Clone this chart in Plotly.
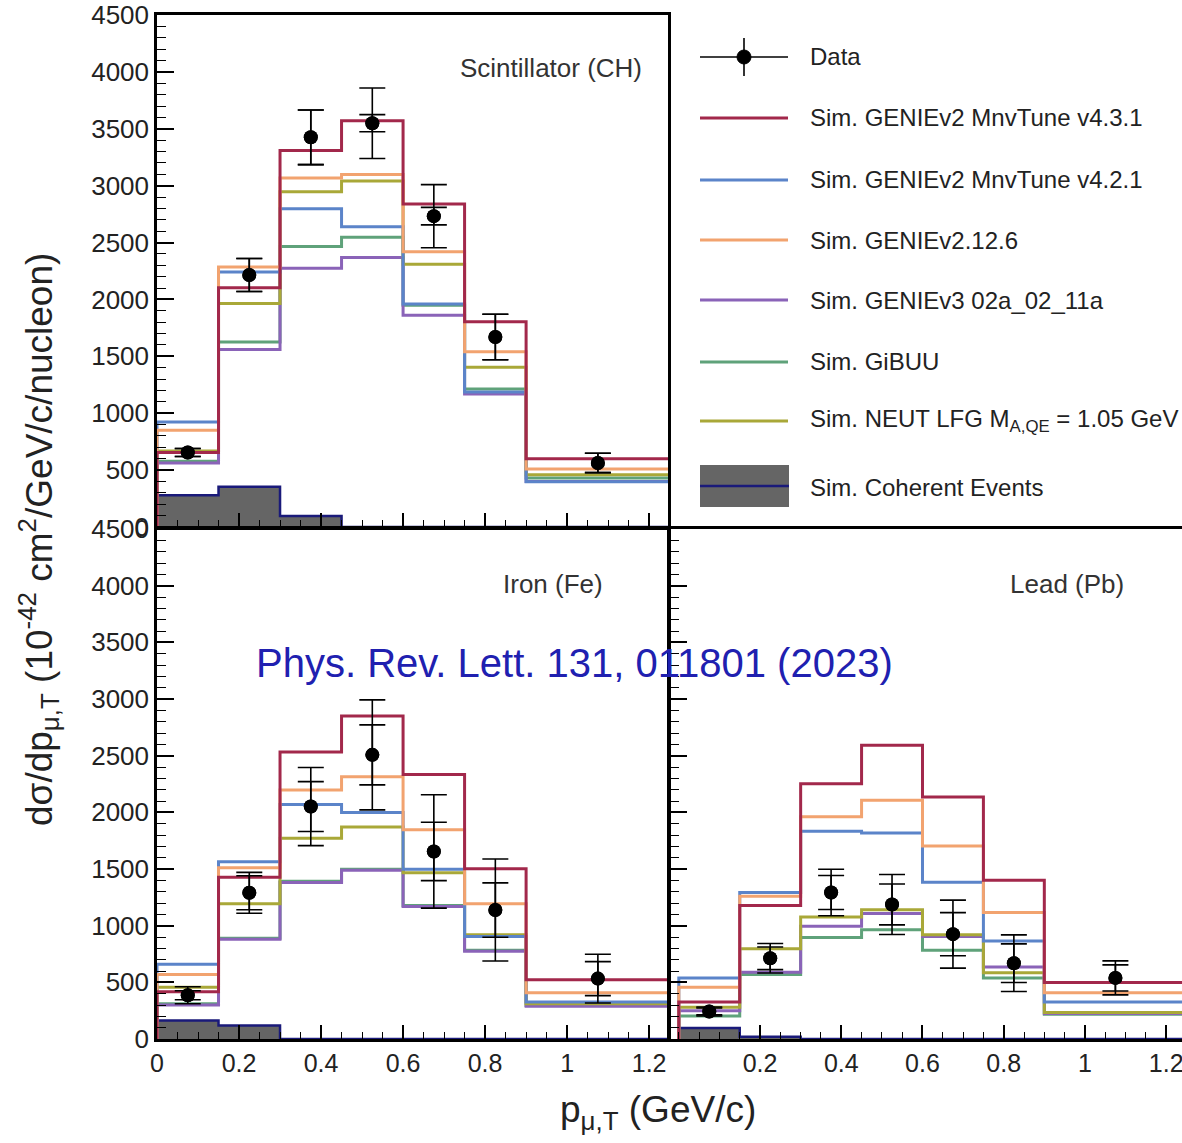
import plotly.graph_objects as go

# Bin edges in p_mu,T (GeV/c) and bin centres for the data points
edges = [0.0, 0.15, 0.30, 0.45, 0.60, 0.75, 0.90, 1.25]
centers = [0.075, 0.225, 0.375, 0.525, 0.675, 0.825, 1.075]

# ---- Scintillator (CH) ----
ch_data = [655, 2215, 3425, 3549, 2732, 1670, 563]
ch_total = [35, 145, 240, 310, 277, 200, 85]
ch_stat = [35, 145, 240, 75, 77, 200, 85]
ch_v431 = [655, 2103, 3310, 3570, 2838, 1805, 599]
ch_v421 = [923, 2242, 2797, 2640, 1960, 1186, 398]
ch_g2126 = [850, 2286, 3068, 3098, 2419, 1540, 510]
ch_g3 = [563, 1560, 2274, 2369, 1861, 1168, 401]
ch_gibuu = [578, 1626, 2466, 2546, 1950, 1212, 431]
ch_neut = [667, 1965, 2947, 3042, 2310, 1404, 460]
ch_coh = [280, 354, 97, 0, 0, 0, 0]

# ---- Iron (Fe) ----
fe_data = [386, 1290, 2051, 2507, 1655, 1138, 533]
fe_total = [75, 180, 345, 485, 500, 450, 215]
fe_stat = [40, 150, 220, 265, 258, 240, 150]
fe_v431 = [417, 1427, 2532, 2851, 2334, 1503, 523]
fe_v421 = [660, 1564, 2069, 1999, 1497, 904, 326]
fe_g2126 = [569, 1512, 2197, 2313, 1847, 1193, 408]
fe_g3 = [300, 880, 1380, 1490, 1170, 775, 290]
fe_gibuu = [310, 889, 1391, 1497, 1178, 782, 295]
fe_neut = [456, 1193, 1771, 1871, 1467, 919, 310]
fe_coh = [164, 119, 0, 0, 0, 0, 0]

# ---- Lead (Pb) ----
pb_data = [243, 712, 1293, 1187, 925, 669, 539]
pb_total = [40, 130, 205, 265, 300, 250, 150]
pb_stat = [30, 100, 150, 180, 190, 170, 115]
pb_v431 = [326, 1178, 2252, 2593, 2136, 1400, 499]
pb_v421 = [539, 1293, 1832, 1817, 1382, 864, 326]
pb_g2126 = [456, 1260, 1960, 2106, 1704, 1117, 408]
pb_g3 = [250, 590, 995, 1108, 904, 636, 225]
pb_gibuu = [204, 569, 895, 965, 782, 539, 219]
pb_neut = [280, 797, 1077, 1141, 919, 584, 234]
pb_coh = [97, 20, 0, 0, 0, 0, 0]

panel_titles = ["Scintillator (CH)", "Iron (Fe)", "Lead (Pb)"]
y_ticks = [0, 500, 1000, 1500, 2000, 2500, 3000, 3500, 4000, 4500]
x_ticks = [0, 0.2, 0.4, 0.6, 0.8, 1.0, 1.2]
x_ticktext = ["0", "0.2", "0.4", "0.6", "0.8", "1", "1.2"]

model_names = [
    "Sim. GENIEv2 MnvTune v4.3.1",
    "Sim. GENIEv2 MnvTune v4.2.1",
    "Sim. GENIEv2.12.6",
    "Sim. GENIEv3 02a_02_11a",
    "Sim. GiBUU",
    "Sim. NEUT LFG M<sub>A,QE</sub> = 1.05 GeV",
]
model_colors = ["#a2284b", "#5b84c9", "#f2a36f", "#8a63b8", "#5fa27a", "#a9a838"]
COH_FILL = "#656565"
COH_LINE = "#1a1a7a"

W, H = 1182, 1143
FONT = "Liberation Sans, Arial, sans-serif"
TXT = "#222"


def px(x):
    return x / W


def py(y):
    return 1 - y / H


def step_xy(vals):
    xs = [edges[0]] + edges[:-1] + [edges[-1]]
    ys = [0] + list(vals) + [vals[-1]]
    return xs, ys


fig = go.Figure()

panels = [
    ("x", "y", ch_data, ch_total, ch_stat,
     [ch_v431, ch_v421, ch_g2126, ch_g3, ch_gibuu, ch_neut], ch_coh),
    ("x2", "y2", fe_data, fe_total, fe_stat,
     [fe_v431, fe_v421, fe_g2126, fe_g3, fe_gibuu, fe_neut], fe_coh),
    ("x3", "y3", pb_data, pb_total, pb_stat,
     [pb_v431, pb_v421, pb_g2126, pb_g3, pb_gibuu, pb_neut], pb_coh),
]

# drawing order of the model curves (last one on top)
draw_order = [4, 3, 5, 1, 2, 0]

for xa, ya, data, tot, stat, models, coh in panels:
    cx, cy = step_xy(coh)
    fig.add_trace(go.Scatter(
        x=cx, y=cy, mode="lines", line=dict(shape="hv", color=COH_LINE, width=2.5),
        fill="tozeroy", fillcolor=COH_FILL, xaxis=xa, yaxis=ya,
        showlegend=False, hoverinfo="skip"))
    for i in draw_order:
        sx, sy = step_xy(models[i])
        fig.add_trace(go.Scatter(
            x=sx, y=sy, mode="lines",
            line=dict(shape="hv", color=model_colors[i], width=3),
            xaxis=xa, yaxis=ya, showlegend=False, name=model_names[i]))
    # total uncertainty
    fig.add_trace(go.Scatter(
        x=centers, y=data, mode="markers",
        marker=dict(size=14, color="black"),
        error_y=dict(type="data", array=tot, color="black", thickness=1.6, width=13),
        xaxis=xa, yaxis=ya, showlegend=False))
    # statistical uncertainty
    fig.add_trace(go.Scatter(
        x=centers, y=data, mode="markers",
        marker=dict(size=14, color="black"),
        error_y=dict(type="data", array=stat, color="black", thickness=1.6, width=13),
        xaxis=xa, yaxis=ya, showlegend=False, name="Data"))

axis_common = dict(
    showline=True, linecolor="black", linewidth=2.5, ticks="inside",
    tickcolor="black", tickwidth=1.5, showgrid=False, zeroline=False,
    automargin=False, ticklabeloverflow="allow",
)

x_top_dom = [px(157), px(668)]
x_right_dom = [px(670), 1.0]
y_top_dom = [py(527), py(15)]
y_bot_dom = [py(1039), py(529)]

xminor = dict(ticks="inside", ticklen=7, dtick=0.05, tick0=0, tickcolor="black", tickwidth=1.2)
yminor = dict(ticks="inside", ticklen=9, dtick=100, tick0=0, tickcolor="black", tickwidth=1.2)
ytickfont = dict(size=26, family=FONT, color=TXT)
xtickfont = dict(size=25, family=FONT, color=TXT)

fig.update_layout(
    template="none",
    width=W, height=H, margin=dict(l=0, r=0, t=0, b=0, pad=0, autoexpand=False),
    paper_bgcolor="white", plot_bgcolor="white", showlegend=False,
    font=dict(family=FONT, color=TXT),
    xaxis=dict(domain=x_top_dom, range=[0, 1.246], anchor="y", mirror=True,
               tickvals=x_ticks, showticklabels=False, ticklen=14, minor=xminor,
               **axis_common),
    yaxis=dict(domain=y_top_dom, range=[0, 4500], anchor="x", mirror=True,
               tickvals=y_ticks, ticklen=17, minor=yminor, tickfont=ytickfont,
               **axis_common),
    xaxis2=dict(domain=x_top_dom, range=[0, 1.246], anchor="y2", mirror=True,
                tickvals=x_ticks, ticktext=x_ticktext, ticklen=14, minor=xminor,
                tickfont=xtickfont, **axis_common),
    yaxis2=dict(domain=y_bot_dom, range=[0, 4500], anchor="x2", mirror=True,
                tickvals=y_ticks, ticklen=17, minor=yminor, tickfont=ytickfont,
                **axis_common),
    xaxis3=dict(domain=x_right_dom, range=[-0.0217, 1.239], anchor="y3", mirror=True,
                tickvals=x_ticks[1:], ticktext=x_ticktext[1:], ticklen=14, minor=xminor,
                tickfont=xtickfont, **axis_common),
    yaxis3=dict(domain=y_bot_dom, range=[0, 4500], anchor="x3", mirror=False,
                tickvals=y_ticks, ticklen=17, minor=yminor, showticklabels=False,
                **axis_common),
)


def note(text, x, y, size, color=TXT, xanchor="center", angle=0):
    return dict(text=text, x=px(x), y=py(y), xref="paper", yref="paper",
                xanchor=xanchor, yanchor="middle", showarrow=False, textangle=angle,
                font=dict(size=size, family=FONT, color=color))


annotations = []
# panel titles
for title, (cx, cy) in zip(panel_titles, [(551, 68), (553, 584), (1067, 584)]):
    annotations.append(note(title, cx, cy, 26, color="#333"))

# axis titles
annotations.append(note(
    "dσ/dp<sub>μ,T</sub> (10<sup>-42</sup> cm<sup>2</sup>/GeV/c/nucleon)",
    38, 540, 37, angle=-90))
annotations.append(note("p<sub>μ,T</sub> (GeV/c)", 658, 1112, 37))

# reference note
annotations.append(note("Phys. Rev. Lett. 131, 011801 (2023)", 574, 663, 40, color="#2020b0"))

# legend
shapes = []
leg_x0, leg_x1, leg_tx = 700, 788, 808
leg_rows = [57, 118, 180, 240, 300, 362, 421, 488]
# data entry
shapes.append(dict(type="line", xref="paper", yref="paper", x0=px(leg_x0), x1=px(leg_x1),
                   y0=py(57), y1=py(57), line=dict(color="black", width=1.6)))
shapes.append(dict(type="line", xref="paper", yref="paper", x0=px(744), x1=px(744),
                   y0=py(38), y1=py(76), line=dict(color="black", width=1.6)))
shapes.append(dict(type="circle", xref="paper", yref="paper", x0=px(737), x1=px(751),
                   y0=py(64), y1=py(50), fillcolor="black", line=dict(color="black", width=1)))
annotations.append(note("Data", leg_tx, 57, 24, xanchor="left"))
for name, color, row in zip(model_names, model_colors, leg_rows[1:7]):
    shapes.append(dict(type="line", xref="paper", yref="paper", x0=px(leg_x0), x1=px(leg_x1),
                       y0=py(row), y1=py(row), line=dict(color=color, width=3)))
    annotations.append(note(name, leg_tx, row, 24, xanchor="left"))
shapes.append(dict(type="rect", xref="paper", yref="paper", x0=px(leg_x0), x1=px(leg_x1 + 1),
                   y0=py(507), y1=py(465), fillcolor=COH_FILL, line=dict(width=0)))
shapes.append(dict(type="line", xref="paper", yref="paper", x0=px(leg_x0), x1=px(leg_x1 + 1),
                   y0=py(486), y1=py(486), line=dict(color=COH_LINE, width=2.5)))
annotations.append(note("Sim. Coherent Events", leg_tx, 488, 24, xanchor="left"))

fig.update_layout(annotations=annotations, shapes=shapes)

fig.write_html("out.html")
